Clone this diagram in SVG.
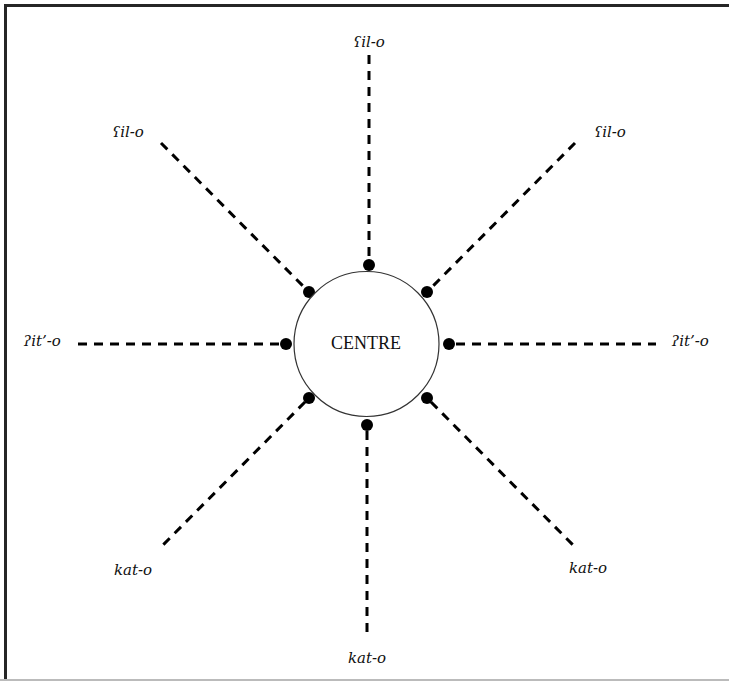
<svg xmlns="http://www.w3.org/2000/svg" width="729" height="681" viewBox="0 0 729 681">
  <style>
    .frame { fill: none; stroke: #262626; stroke-width: 3; }
    .ray { stroke: #000; stroke-width: 3; stroke-dasharray: 9 7; fill: none; }
    .dot { fill: #000; }
    .lbl { font-family: "DejaVu Serif", "Liberation Serif", serif; font-style: italic; font-size: 15px; fill: #111; text-anchor: middle; dominant-baseline: middle; }
    .ctr { font-family: "Liberation Serif", serif; font-size: 18px; fill: #111; text-anchor: middle; dominant-baseline: middle; }
  </style>
  <rect x="0" y="0" width="729" height="681" fill="#fff"/>
  <path class="frame" d="M5.5 681 V5.5 H729"/>
  <line x1="0" y1="680" x2="729" y2="680" stroke="#bbb" stroke-width="2"/>

  <g id="connectors">
    <line class="ray" x1="369" y1="55" x2="369" y2="258"/>
    <line class="ray" x1="161" y1="143" x2="305" y2="288"/>
    <line class="ray" x1="575" y1="143" x2="431" y2="288"/>
    <line class="ray" x1="78" y1="344" x2="280" y2="344"/>
    <line class="ray" x1="456" y1="344" x2="656" y2="344"/>
    <line class="ray" x1="305" y1="402" x2="161" y2="547"/>
    <line class="ray" x1="431" y1="402" x2="575" y2="547"/>
    <line class="ray" x1="367" y1="431" x2="367" y2="635"/>
    <circle class="dot" cx="369" cy="265" r="6"/>
    <circle class="dot" cx="309" cy="292" r="6"/>
    <circle class="dot" cx="427" cy="292" r="6"/>
    <circle class="dot" cx="286" cy="344" r="6"/>
    <circle class="dot" cx="449" cy="344" r="6"/>
    <circle class="dot" cx="309" cy="398" r="6"/>
    <circle class="dot" cx="427" cy="398" r="6"/>
    <circle class="dot" cx="367" cy="425" r="6"/>
  </g>

  <g id="centre">
    <circle cx="366.5" cy="344" r="72.5" fill="#fff" stroke="#333" stroke-width="1.2"/>
    <text class="ctr" x="366" y="345">CENTRE</text>
  </g>

  <g id="label-n"><text class="lbl" x="369" y="43">ʕil-o</text></g>
  <g id="label-nw"><text class="lbl" x="128" y="133">ʕil-o</text></g>
  <g id="label-ne"><text class="lbl" x="610" y="133">ʕil-o</text></g>
  <g id="label-w"><text class="lbl" x="42" y="342">ʔit’-o</text></g>
  <g id="label-e"><text class="lbl" x="690" y="342">ʔit’-o</text></g>
  <g id="label-sw"><text class="lbl" x="133" y="571">kat-o</text></g>
  <g id="label-se"><text class="lbl" x="588" y="569">kat-o</text></g>
  <g id="label-s"><text class="lbl" x="367" y="659">kat-o</text></g>
</svg>
